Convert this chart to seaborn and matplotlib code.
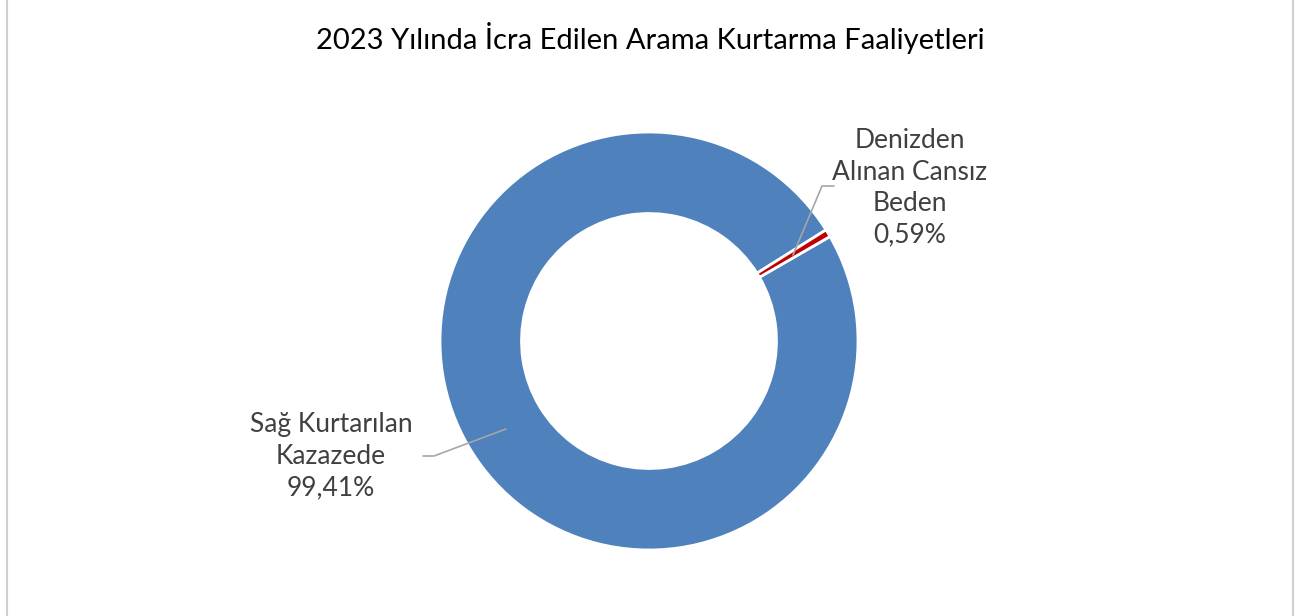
import matplotlib
matplotlib.use("Agg")
import matplotlib.pyplot as plt
import seaborn as sns

sns.set_theme(style="white")
plt.rcParams['font.family'] = ['Lato', 'DejaVu Sans']

# ---------------------------------------------------------------
# Veriler
# ---------------------------------------------------------------
baslik = "2023 Yılında İcra Edilen Arama Kurtarma Faaliyetleri"
kategoriler = ["Sağ Kurtarılan\nKazazede", "Denizden\nAlınan Cansız\nBeden"]
oranlar = [99.41, 0.59]
renkler = ["#4F81BD", "#C00000"]

# ---------------------------------------------------------------
# Çizim (eksen = piksel düzlemi, y yukarı)
# ---------------------------------------------------------------
W, H = 1303, 616
fig = plt.figure(figsize=(W / 100, H / 100), dpi=100)
ax = fig.add_axes([0, 0, 1, 1])

merkez = (649, H - 341)
R = 209
wedges, _ = ax.pie(
    oranlar,
    colors=renkler,
    startangle=30,
    counterclock=False,
    radius=R,
    center=merkez,
    wedgeprops=dict(width=R - 127.5, edgecolor="white", linewidth=2),
)

ax.set_xlim(0, W)
ax.set_ylim(0, H)
ax.set_aspect("equal")
ax.axis("off")

# Başlık
ax.text(650, H - 38, baslik, ha="center", va="center", fontsize=21, color="#000000")

# Etiketler
etiketler = [f"{k}\n{v:.2f}%".replace(".", ",") for k, v in zip(kategoriler, oranlar)]
ax.text(331, H - 456, etiketler[0], ha="center", va="center", fontsize=19,
        color="#404040", linespacing=1.32)
ax.text(910, H - 188, etiketler[1], ha="center", va="center", fontsize=19,
        color="#404040", linespacing=1.32)

# Bağlantı çizgileri
ax.plot([423, 434, 506], [H - 456, H - 456, H - 429], color="#A6A6A6", lw=1.2)
ax.plot([834, 822, 793], [H - 186, H - 186, H - 255], color="#A6A6A6", lw=1.2)

# Kenar çizgileri
ax.plot([7, 7], [0, H], color="#D0D0D0", lw=1.5)
ax.plot([1293, 1293], [0, H], color="#D0D0D0", lw=1.5)

fig.savefig("out.png", dpi=100)
